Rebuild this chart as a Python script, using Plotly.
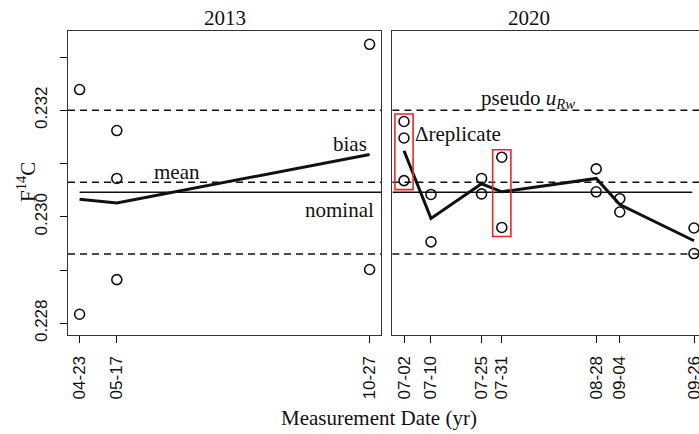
import pandas as pd
import plotly.graph_objects as go

# ---- data -------------------------------------------------------------
dates_2013 = ["2013-04-23", "2013-05-17", "2013-10-27"]
reps_2013 = [
    [0.23239, 0.22817],
    [0.23162, 0.23072, 0.22882],
    [0.23324, 0.22901],
]
bias_2013 = [0.23033, 0.23026, 0.23117]

dates_2020 = ["2020-07-02", "2020-07-10", "2020-07-25", "2020-07-31",
              "2020-08-28", "2020-09-04", "2020-09-26"]
reps_2020 = [
    [0.23179, 0.23148, 0.23068],
    [0.23042, 0.22953],
    [0.23072, 0.23043],
    [0.23112, 0.22980],
    [0.23090, 0.23047],
    [0.23034, 0.23009],
    [0.22979, 0.22931],
]
bias_2020 = [0.23124, 0.22997, 0.23062, 0.23047, 0.23072, 0.23023, 0.22955]

nominal = 0.23046
mean_val = 0.23065
pseudo_u = 0.00135
flagged_2020 = ["2020-07-02", "2020-07-31"]  # boxed replicate groups

y_ticks = [0.228, 0.230, 0.232]
y_ticktext = ["0.228", "0.230", "0.232"]
y_minor_step = 0.001
y_range = [0.22778, 0.23349]

SERIF = "Liberation Serif, Times New Roman, serif"
SANS = "Liberation Sans, Arial, sans-serif"
INK = "#111111"
FRAME = "#333333"

W, H = 699, 434
ML, MR, MT, MB = 68, 0, 31, 99
plot_w = W - ML - MR
panel_px = 313.2           # width of one facet
gap_px = 11.2
left_dom = [0, panel_px / plot_w]
right_dom = [(panel_px + gap_px) / plot_w, 1.0]


def flatten(dates, reps):
    xs, ys = [], []
    for d, r in zip(dates, reps):
        for v in r:
            xs.append(d)
            ys.append(v)
    return xs, ys


def padded_range(dates):
    t = pd.to_datetime(pd.Series(dates))
    span = t.max() - t.min()
    return t.min() - 0.04 * span, t.max() + 0.04 * span


fig = go.Figure()

# replicate points and bias line per facet
for dates, reps, bias, xa, ya in [
    (dates_2013, reps_2013, bias_2013, "x", "y"),
    (dates_2020, reps_2020, bias_2020, "x2", "y2"),
]:
    px_, py_ = flatten(dates, reps)
    fig.add_trace(go.Scatter(
        x=dates, y=bias, mode="lines", xaxis=xa, yaxis=ya,
        line=dict(color=INK, width=3), showlegend=False, hoverinfo="skip"))
    fig.add_trace(go.Scatter(
        x=px_, y=py_, mode="markers", xaxis=xa, yaxis=ya,
        marker=dict(symbol="circle-open", size=10, color=INK,
                    line=dict(width=1.6, color=INK)),
        showlegend=False, cliponaxis=False))

r13 = padded_range(dates_2013)
r20_full = padded_range(dates_2020)
r20 = (r20_full[0],
       r20_full[0] + (r20_full[1] - r20_full[0]) * ((W - ML - (panel_px + gap_px)) / panel_px))

# reference lines
for xr in ["x domain", "x2 domain"]:
    yr = "y" if xr.startswith("x ") else "y2"
    for v in [mean_val + pseudo_u, mean_val, mean_val - pseudo_u]:
        fig.add_shape(type="line", xref=xr, yref=yr, x0=0, x1=1, y0=v, y1=v,
                      line=dict(color=INK, width=1.5, dash="7px,5px"), layer="below")

fig.add_shape(type="line", xref="x", yref="y", x0=dates_2013[0], x1=r13[1],
              y0=nominal, y1=nominal, line=dict(color=INK, width=1.5), layer="below")
fig.add_shape(type="line", xref="x2", yref="y2", x0=r20[0],
              x1=pd.Timestamp(dates_2020[-1]) - pd.Timedelta(hours=12),
              y0=nominal, y1=nominal, line=dict(color=INK, width=1.5), layer="below")

# boxes around selected replicate groups
for d in flagged_2020:
    vals = reps_2020[dates_2020.index(d)]
    t = pd.Timestamp(d)
    fig.add_shape(type="rect", xref="x2", yref="y2",
                  x0=t - pd.Timedelta(days=2.7), x1=t + pd.Timedelta(days=2.7),
                  y0=min(vals) - 0.00017, y1=max(vals) + 0.00014,
                  line=dict(color="#e8262a", width=1.6))

tick_font = dict(family=SANS, size=17, color=INK)
xaxis_common = dict(
    type="date", showline=True, linecolor=FRAME, linewidth=1.3, mirror=True,
    ticks="outside", ticklen=7, tickwidth=1.3, tickcolor=INK,
    tickangle=-90, tickformat="%m-%d", tickfont=tick_font,
    showgrid=False, zeroline=False, ticklabelstandoff=6,
    ticklabeloverflow="allow", automargin=False,
)
fig.update_layout(
    width=W, height=H,
    margin=dict(l=ML, r=MR, t=MT, b=MB, autoexpand=False),
    paper_bgcolor="white", plot_bgcolor="white",
    xaxis=dict(domain=left_dom, range=list(r13), tickvals=dates_2013, anchor="y",
               **xaxis_common),
    xaxis2=dict(domain=right_dom, range=list(r20), tickvals=dates_2020, anchor="y2",
                **xaxis_common),
    yaxis=dict(range=y_range, tickvals=y_ticks, ticktext=y_ticktext,
               showline=True, linecolor=FRAME, linewidth=1.3, mirror=True,
               ticks="outside", ticklen=7, tickwidth=1.3, tickcolor=INK,
               minor=dict(ticks="outside", ticklen=7, tickwidth=1.3, tickcolor=INK,
                          tick0=y_ticks[0], dtick=y_minor_step, showgrid=False),
               tickangle=-90, tickfont=tick_font, showgrid=False, zeroline=False,
               ticklabelstandoff=6, anchor="x", automargin=False),
    yaxis2=dict(range=y_range, showline=True, linecolor=FRAME, linewidth=1.3,
                mirror=False, showticklabels=False, ticks="", showgrid=False,
                zeroline=False, anchor="x2", automargin=False),
    showlegend=False,
)


def px_to_paper_x(px):
    return (px - ML) / plot_w


def px_to_paper_y(py):
    return (H - MB - py) / (H - MB - MT)


ann_font = dict(family=SERIF, size=21, color=INK)
annotations = [
    # facet titles
    dict(text="2013", x=px_to_paper_x(225), y=px_to_paper_y(18)),
    dict(text="2020", x=px_to_paper_x(529), y=px_to_paper_y(18)),
    # axis titles
    dict(text="Measurement Date (yr)", x=px_to_paper_x(379), y=px_to_paper_y(418)),
    dict(text="F<sup>14</sup>C", x=px_to_paper_x(26), y=px_to_paper_y(182), textangle=-90),
    # in-panel labels
    dict(text="mean", x=px_to_paper_x(177), y=px_to_paper_y(172)),
    dict(text="bias", x=px_to_paper_x(350), y=px_to_paper_y(144)),
    dict(text="nominal", x=px_to_paper_x(376), y=px_to_paper_y(210), xanchor="right"),
    dict(text="pseudo <i>u</i><sub><i>Rw</i></sub>", x=px_to_paper_x(528), y=px_to_paper_y(99)),
    dict(text="Δreplicate", x=px_to_paper_x(413), y=px_to_paper_y(134), xanchor="left"),
]
for a in annotations:
    a.setdefault("xanchor", "center")
    fig.add_annotation(xref="paper", yref="paper", yanchor="middle", showarrow=False,
                       font=ann_font, **a)

fig.write_html("out.html")
